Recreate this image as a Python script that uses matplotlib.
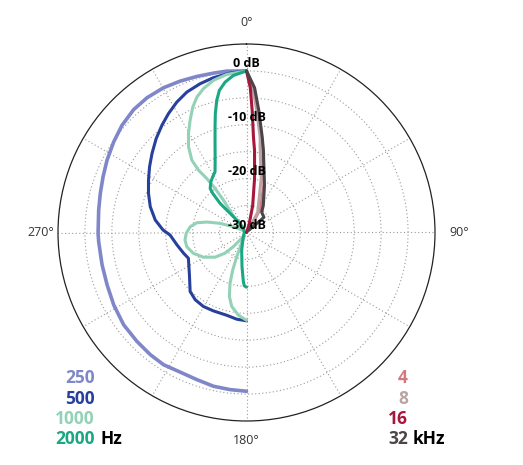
import numpy as np
import matplotlib
matplotlib.use("Agg")
import matplotlib.pyplot as plt

plt.rcParams['font.family'] = ['Open Sans', 'DejaVu Sans']

# ---- data (angle in degrees clockwise from front, level in dB) ----
deg250 = [0, -7, -11.7, -17.7, -23.7, -29.8, -36.4, -42.6, -49.3, -55.7, -62.6, -68.8, -75, -81.4,
          -90.3, -93.6, -102.6, -110.6, -118.6, -126.9, -134.8, -141.8, -147.9, -154.5, -161.3,
          -167.9, -174, -180]
db250 = [0, 0.19, 0.22, 0.41, 0.69, 0.98, 1.1, 0.98, 0.5, -0.15, -0.83, -1.43, -1.9, -2.24,
         -2.44, -2.5, -2.52, -2.35, -1.92, -1.47, -1.32, -1.13, -1.02, -1.3, -1.17,
         -0.8, -0.67, -0.52]

deg500 = [0, -5.9, -12.1, -17.3, -23, -28.1, -33.3, -38.3, -43.9, -50.1, -55.9, -61.9, -68.2, -75,
          -82.2, -88.3, -91.9, -100.2, -108.2, -113.9, -126.6, -136.3, -142.7, -149.8, -157.1,
          -166.6, -173.6, -180]
db500 = [0, -0.24, -0.61, -1.06, -1.67, -2.54, -3.6, -4.65, -5.81, -7.13, -8.26, -9.37, -10.4, -11.5,
         -12.9, -14.5, -15.8, -16.9, -17.7, -18.2, -16.8, -14.85, -14.3, -14.1, -14.2,
         -14.2, -13.8, -13.6]

deg1000 = [0, -7.1, -12.3, -16.7, -20.1, -23.2, -26.7, -30.4, -34.1, -37.1, -37.6, -36.3, -35.5,
           -35.5, -37.6, -48, -57, -66.3, -70.9, -75.2, -78.9, -84.1, -90.8, -97, -103.4, -111.4,
           -119.9, -128.2, -134, -137.1, -139, -148, -156, -158, -159.8, -162, -165, -168.7,
           -174.3, -180]
db1000 = [0, -0.42, -1.1, -2.13, -3.22, -4.67, -6.69, -8.7, -10.8, -13.2, -15.4, -17.6, -19.9,
          -22.6, -25.5, -28.4, -29.3, -27.3, -24.8, -22.4, -20.6, -19.5, -18.8, -18.5, -18.6, -19.4,
          -20.8, -22.6, -24.5, -26.4, -28.2, -29.3, -27.8, -25.2, -22.6, -20.1, -17.7, -16,
          -14.6, -13.7]

deg2000 = [0, -4.8, -8.1, -10.8, -12.7, -14.7, -16.6, -19.5, -23.5, -27.4, -31.2, -35.2, -39.5,
           -40.8, -42.2, -40.7, -35.3, -40, -90, -142.7, -164.7, -172.5, -176.3, -177.6, -180]
db2000 = [0, -0.74, -1.8, -3.13, -4.85, -7.19, -9.56, -12.5, -15.4, -17.3, -17.9, -18.5, -19.4,
          -20.4, -22.7, -25.3, -27.9, -29.2, -29.6, -29.0, -26.6, -23.6, -20.9, -20.1, -19.85]

deg4k = [0, 3, 5.5, 9, 11.5, 20, 30, 42]
db4k = [0, -3.1, -7.3, -12.1, -14.5, -20.5, -24.8, -29.0]

deg8k = [0, 2.5, 4.8, 8.2, 8.9, 15.2, 29, 40]
db8k = [0, -3.1, -7.3, -12.2, -13.7, -19.6, -25.7, -29.3]

deg16k = [0, 1.5, 2.7, 4.2, 5.6, 8.5, 13, 18, 25]
db16k = [0, -3.1, -7.4, -12.3, -14.7, -19.9, -24.9, -28.5, -30.0]

deg32k = [0, 3.2, 5.8, 9.4, 11.7, 21, 31.9, 36.8, 48.8, 49, 42]
db32k = [0, -3.1, -7.3, -12.1, -14.5, -20.7, -24.1, -25.3, -25.7, -27.2, -29.5]

low_labels = ["250", "500", "1000", "2000"]
high_labels = ["4", "8", "16", "32"]
angle_labels = ["0°", "90°", "180°", "270°"]
db_ticks = [0, -10, -20, -30]

low_series = [(deg250, db250), (deg500, db500), (deg1000, db1000), (deg2000, db2000)]
high_series = [(deg4k, db4k), (deg8k, db8k), (deg16k, db16k), (deg32k, db32k)]
low_colors = ["#8087c9", "#26409c", "#93d2b6", "#1aa783"]
high_colors = ["#d4787d", "#b9a3a4", "#a6173b", "#4b4448"]

W, H = 523, 465
fig = plt.figure(figsize=(W / 100, H / 100), dpi=100)
cx, cy, R = 246.5, 232.5, 188.5
ax = fig.add_axes([(cx - R) / W, (H - cy - R) / H, 2 * R / W, 2 * R / H], projection='polar')
ax.set_theta_zero_location('N')
ax.set_theta_direction(-1)
ax.set_rlim(-30, 5)
ax.set_rgrids([-25, -20, -15, -10, -5, 0], labels=[''] * 6)
ax.set_thetagrids(np.arange(0, 360, 30), labels=[''] * 12)
ax.grid(True, color='#9a9a9a', linestyle=(0, (1, 2.2)), linewidth=0.8)
ax.spines['polar'].set_color('#222222')
ax.spines['polar'].set_linewidth(0.9)
ax.tick_params(length=0)

for (d, v), c, lab in zip(low_series, low_colors, low_labels):
    lw = 2.6 if lab == "250" else 2.2
    ax.plot(np.deg2rad(d), v, color=c, lw=lw, solid_joinstyle='round', solid_capstyle='round')
for (d, v), c, lab in zip(high_series, high_colors, high_labels):
    ax.plot(np.deg2rad(d), v, color=c, lw=2.2, solid_joinstyle='round', solid_capstyle='round')

for t in db_ticks:
    ax.text(0, t + 1.3, f"{t} dB", ha='center', va='center', fontsize=9,
            fontweight='bold', color='black')

for ang, r, lab in zip([0, 90, 180, 270], [8.9, 9.5, 8.6, 8.2], angle_labels):
    ax.text(np.deg2rad(ang), r, lab, ha='center', va='center', fontsize=9,
            color='#333333', clip_on=False)

def fx(x):
    return x / W

def fy(y):
    return 1 - y / H

ys = [378, 398.5, 418.5, 439]
for lab, c, y in zip(low_labels, low_colors, ys):
    fig.text(fx(95), fy(y), lab, color=c, fontsize=12.5, fontweight='bold', ha='right', va='center')
fig.text(fx(100), fy(ys[-1]), "Hz", color='black', fontsize=12.5, fontweight='bold', ha='left', va='center')

for lab, c, y in zip(high_labels, high_colors, ys):
    fig.text(fx(408), fy(y), lab, color=c, fontsize=12.5, fontweight='bold', ha='right', va='center')
fig.text(fx(412.5), fy(ys[-1]), "kHz", color='black', fontsize=12.5, fontweight='bold', ha='left', va='center')

fig.savefig("out.png", dpi=100)
